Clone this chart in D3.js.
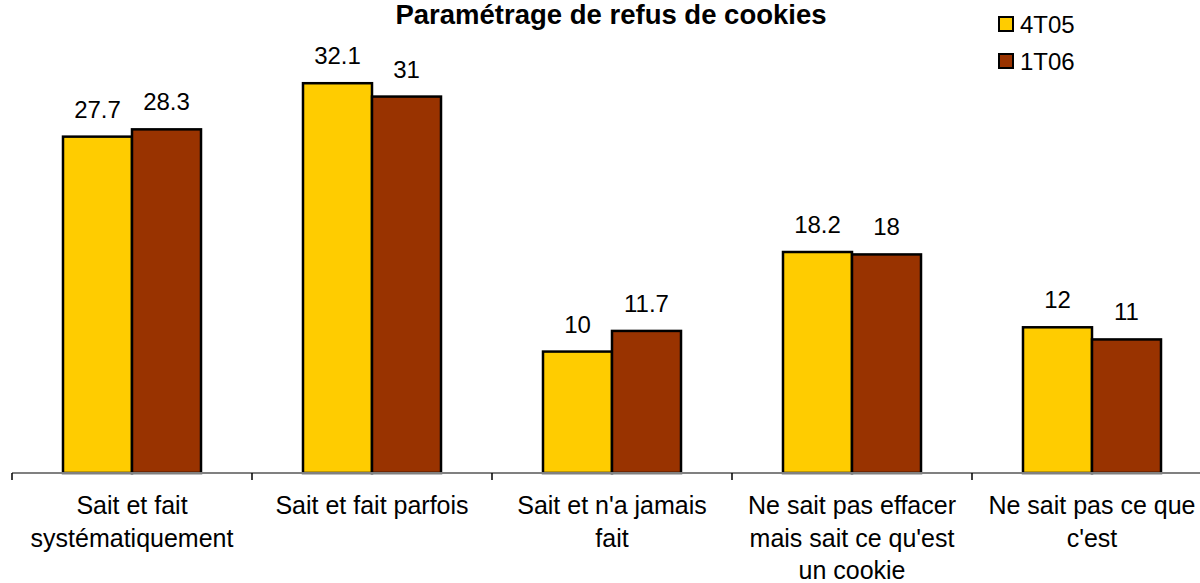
<!DOCTYPE html>
<html><head><meta charset="utf-8">
<script src="https://cdn.jsdelivr.net/npm/d3@7"></script>
<style>body{margin:0;background:#fff}svg{display:block;font-family:"Liberation Sans",Arial,sans-serif}</style>
</head><body>
<svg id="c" width="1200" height="583"></svg>
<script>
const categories = [
  ["Sait et fait","systématiquement"],
  ["Sait et fait parfois"],
  ["Sait et n'a jamais","fait"],
  ["Ne sait pas effacer","mais sait ce qu'est","un cookie"],
  ["Ne sait pas ce que","c'est"]
];
const seriesNames = ["4T05","1T06"];
const values4T05 = [27.7, 32.1, 10, 18.2, 12];
const values1T06 = [28.3, 31, 11.7, 18, 11];
const colors = ["#FFCC00","#993300"];
const title = "Paramétrage de refus de cookies";

const svg = d3.select("#c");
const x = d3.scaleBand().domain(d3.range(categories.length)).range([12,1212]).paddingInner(0).paddingOuter(0);
const y = d3.scaleLinear().domain([0,35]).range([473,48]);
const xs = d3.scaleBand().domain([0,1]).range([0,138]);
const off = (x.bandwidth()-138)/2;

const data = [values4T05, values1T06];
data.forEach((vals,si)=>{
  const g = svg.append("g");
  g.selectAll("rect").data(vals).enter().append("rect")
    .attr("x",(d,i)=>x(i)+off+xs(si))
    .attr("y",d=>y(d))
    .attr("width",xs.bandwidth())
    .attr("height",d=>y(0)-y(d))
    .attr("fill",colors[si]).attr("stroke","#000").attr("stroke-width",2.5);
  g.selectAll("text").data(vals).enter().append("text")
    .attr("x",(d,i)=>x(i)+off+xs(si)+xs.bandwidth()/2)
    .attr("y",d=>y(d)-19)
    .attr("text-anchor","middle").attr("font-size",24).attr("fill","#000")
    .text(d=>d);
});

// axis
const ax = svg.append("g").attr("transform","translate(0,473)")
  .call(d3.axisBottom(x).tickSize(0).tickFormat(""));
ax.select(".domain").attr("d","M12,0H1200").attr("stroke","#808080").attr("stroke-width",2);
const ticks = d3.range(categories.length).map(i=>x(i));
svg.selectAll(".tk").data(ticks).enter().append("line")
  .attr("x1",d=>d).attr("x2",d=>d).attr("y1",473).attr("y2",480)
  .attr("stroke","#000").attr("stroke-width",1.5);

// category labels
categories.forEach((lines,i)=>{
  const t = svg.append("text").attr("text-anchor","middle").attr("font-size",25).attr("fill","#000");
  lines.forEach((l,j)=>{
    t.append("tspan").attr("x",x(i)+x.bandwidth()/2).attr("y",514+j*32.5).text(l);
  });
});

// title
svg.append("text").attr("x",611).attr("y",24).attr("text-anchor","middle")
  .attr("font-size",27.5).attr("font-weight","bold").text(title);

// legend
seriesNames.forEach((n,i)=>{
  svg.append("rect").attr("x",999).attr("y",17+i*37).attr("width",14).attr("height",14)
    .attr("fill",colors[i]).attr("stroke","#000").attr("stroke-width",2);
  svg.append("text").attr("x",1020).attr("y",33+i*37).attr("font-size",24).text(n);
});
</script>
</body></html>
